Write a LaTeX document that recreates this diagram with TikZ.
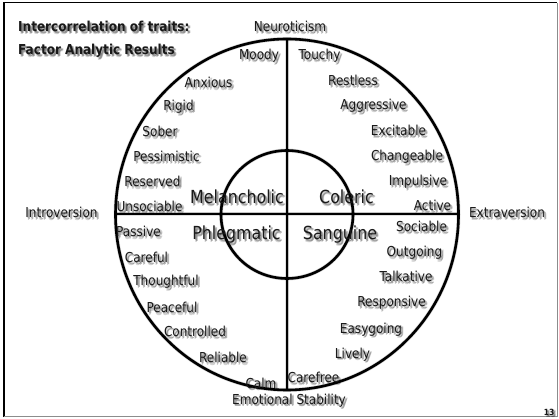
\documentclass[tikz,border=0pt]{standalone}
\usepackage{fontspec}
\setmainfont{DejaVu Sans}[FakeStretch=0.88]
\tikzset{
  trait/.style={font=\fontsize{13.7}{16}\selectfont, inner sep=0pt, anchor=base, text=black!90},
  temper/.style={trait, font=\fontsize{18}{21}\selectfont},
  titletxt/.style={trait, font=\bfseries\fontsize{13.7}{16}\selectfont, anchor=base west},
  pagenum/.style={trait, font=\bfseries\fontsize{8.5}{10}\selectfont},
  mainline/.style={line width=2.6pt, black},
  shadowline/.style={line width=4pt, black, opacity=0.12},
}
% text with a soft drop shadow, kept inside one node
\newcommand\shadowed[1]{%
  \makebox[0pt][l]{\begin{pgfscope}\pgfsetfillopacity{0.17}\color{black}%
    \rlap{\kern1pt\raisebox{-1pt}{#1}}%
    \rlap{\kern2pt\raisebox{-2pt}{#1}}%
    \rlap{\kern2.5pt\raisebox{-1.5pt}{#1}}%
    \rlap{\kern1.5pt\raisebox{-2.8pt}{#1}}%
  \end{pgfscope}}#1}
\newcommand\lbl[4]{\node[#1] (#2) at (#3) {\shadowed{#4}};}
\newcommand\diagramlines[1]{%
  \draw[#1] (C) ellipse [x radius=171.5, y radius=175.5];
  \draw[#1] (C) ellipse [x radius=66, y radius=64];
  \draw[#1] (W) -- (E);
  \draw[#1] (N) -- (S);}
\begin{document}
\begin{tikzpicture}[x=1pt,y=-1pt]
\useasboundingbox (0,0) rectangle (559,419);
\fill[white] (0,0) rectangle (559,419);
% frame
\draw[black, line width=1.2pt] (4,417) -- (4,2.7) -- (557,2.7);
\draw[black!45, line width=1.6pt] (4,416.5) -- (557.6,416.5) -- (557.6,2.7);
% geometry
\coordinate (C) at (287,214.5);
\coordinate (W) at (115.5,214);
\coordinate (E) at (458.5,214);
\coordinate (N) at (287,39);
\coordinate (S) at (287,390);
\begin{scope}[xshift=2pt,yshift=-2.5pt]
  \diagramlines{shadowline}
\end{scope}
\begin{scope}[xshift=1.2pt,yshift=-1.4pt]
  \diagramlines{shadowline,line width=3pt}
\end{scope}
\diagramlines{mainline}
% titles
\lbl{titletxt}{t1}{18,32}{Intercorrelation of traits:}
\lbl{titletxt}{t2}{18,55}{Factor Analytic Results}
% axis labels
\lbl{trait}{neuro}{290,32}{Neuroticism}
\lbl{trait}{intro}{61.5,218}{Introversion}
\lbl{trait}{extra}{507,218}{Extraversion}
\lbl{trait}{emo}{289,404}{Emotional Stability}
% temperaments
\lbl{temper}{mel}{237,204}{Melancholic}
\lbl{temper}{col}{346.5,204}{Coleric}
\lbl{temper}{phl}{236.5,240}{Phlegmatic}
\lbl{temper}{san}{340,240}{Sanguine}
% traits upper left
\lbl{trait}{moody}{259,60}{Moody}
\lbl{trait}{anxious}{208.5,87.5}{Anxious}
\lbl{trait}{rigid}{178.5,111}{Rigid}
\lbl{trait}{sober}{160,136.5}{Sober}
\lbl{trait}{pess}{166.5,162}{Pessimistic}
\lbl{trait}{reserved}{152.5,186.5}{Reserved}
\lbl{trait}{unsoc}{149.5,211.5}{Unsociable}
% traits upper right
\lbl{trait}{touchy}{319.5,60}{Touchy}
\lbl{trait}{restless}{353,86}{Restless}
\lbl{trait}{aggr}{373.5,110}{Aggressive}
\lbl{trait}{excit}{398.5,136}{Excitable}
\lbl{trait}{change}{407,161}{Changeable}
\lbl{trait}{impuls}{418,186}{Impulsive}
\lbl{trait}{active}{432.5,211}{Active}
% traits lower left
\lbl{trait}{passive}{138.5,236.5}{Passive}
\lbl{trait}{careful}{146.5,263}{Careful}
\lbl{trait}{thought}{166,286}{Thoughtful}
\lbl{trait}{peace}{172,312.5}{Peaceful}
\lbl{trait}{control}{195,337}{Controlled}
\lbl{trait}{reliable}{223,362.5}{Reliable}
\lbl{trait}{calm}{261,388}{Calm}
% traits lower right
\lbl{trait}{sociable}{421.5,232}{Sociable}
\lbl{trait}{outgoing}{414.5,256.5}{Outgoing}
\lbl{trait}{talk}{406,282}{Talkative}
\lbl{trait}{respons}{391.5,307}{Responsive}
\lbl{trait}{easy}{371,333}{Easygoing}
\lbl{trait}{lively}{352.5,358}{Lively}
\lbl{trait}{carefree}{313.5,382.5}{Carefree}
% page number
\lbl{pagenum}{pg}{549,415}{13}
\end{tikzpicture}
\end{document}
